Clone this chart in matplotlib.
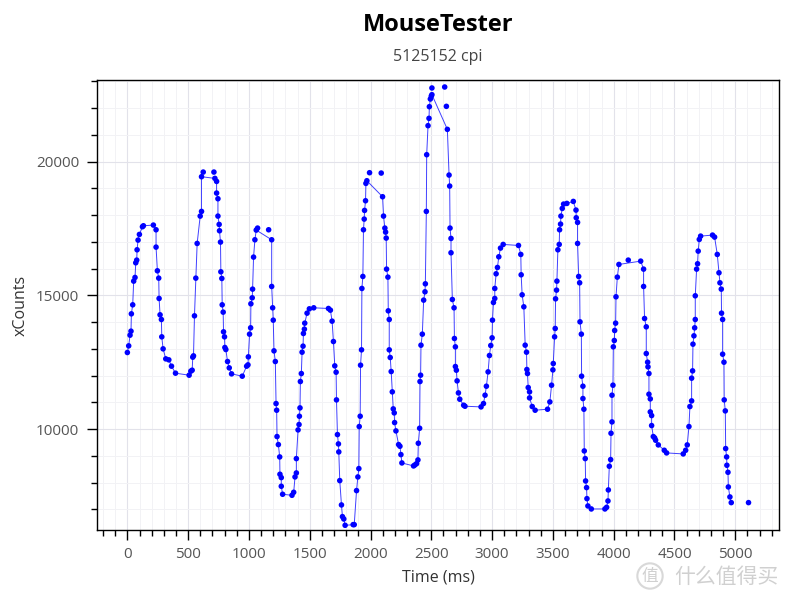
import matplotlib
matplotlib.use('Agg')
import matplotlib.pyplot as plt
from matplotlib.ticker import MultipleLocator

# MouseTester xCounts vs time
t_ms = [
    0, 11, 22, 30, 33, 44, 52, 63, 69, 77,
    80, 88, 99, 124, 132, 214, 236, 236, 247, 258,
    261, 269, 280, 283, 294, 316, 341, 363, 396, 508,
    522, 533, 538, 544, 552, 563, 574, 599, 610, 610,
    624, 712, 720, 734, 734, 745, 745, 755, 758, 766,
    769, 777, 780, 788, 791, 799, 802, 810, 824, 838,
    857, 945, 981, 992, 995, 1005, 1014, 1016, 1027, 1030,
    1038, 1049, 1060, 1071, 1162, 1187, 1187, 1195, 1200, 1206,
    1217, 1223, 1228, 1231, 1242, 1253, 1255, 1266, 1266, 1277,
    1354, 1368, 1379, 1390, 1390, 1404, 1412, 1415, 1420, 1423,
    1431, 1437, 1445, 1448, 1456, 1459, 1478, 1497, 1533, 1654,
    1670, 1684, 1695, 1706, 1717, 1720, 1728, 1736, 1739, 1747,
    1761, 1769, 1780, 1791,
    1857, 1866, 1885, 1896, 1904, 1907, 1915, 1918, 1926, 1929,
    1937, 1942, 1948, 1951, 1959, 1962, 1970, 1992, 2088, 2099,
    2107, 2118, 2124, 2129, 2132, 2143, 2146, 2154, 2154, 2162,
    2170, 2179, 2187, 2195, 2198, 2209, 2231, 2242, 2250, 2258,
    2354, 2365, 2379, 2390, 2393, 2404, 2407, 2412, 2415, 2426,
    2437, 2448, 2451, 2459, 2462, 2473, 2481, 2484, 2492, 2500,
    2505, 2505, 2610, 2624, 2632, 2646, 2651, 2654, 2662, 2662,
    2673, 2687, 2690, 2698, 2698, 2706, 2712, 2723, 2734, 2766,
    2777, 2909, 2929, 2942, 2953, 2967, 2978, 2989, 3000, 3003,
    3011, 3022, 3022, 3033, 3044, 3055, 3069, 3091, 3217, 3236,
    3239, 3247, 3261, 3272, 3283, 3286, 3291, 3297, 3308, 3308,
    3330, 3354, 3456, 3475, 3489, 3500, 3503, 3514, 3519, 3522,
    3530, 3533, 3541, 3552, 3555, 3563, 3566, 3577, 3588, 3615,
    3668, 3690, 3692, 3703, 3703, 3712, 3720, 3723, 3734, 3736,
    3747, 3747, 3755, 3758, 3766, 3769, 3777, 3780, 3788, 3816,
    3928, 3942, 3953, 3956, 3964, 3975, 3978, 3986, 3986, 3994,
    3997, 4005, 4008, 4016, 4019, 4030, 4043, 4120, 4222, 4246,
    4246, 4254, 4268, 4268, 4279, 4282, 4290, 4290, 4301, 4301,
    4312, 4312, 4326, 4337, 4345, 4367, 4416, 4435, 4572, 4592,
    4605, 4619, 4627, 4641, 4641, 4649, 4652, 4660, 4666, 4671,
    4671, 4682, 4690, 4695, 4704, 4715, 4813, 4830, 4852, 4866,
    4874, 4885, 4887, 4896, 4896, 4907, 4909, 4918, 4921, 4929,
    4931, 4940, 4943, 4956, 4967, 5109,
]
x_counts = [
    12868, 13117, 13516, 13666, 14314, 14651, 15536, 15673, 16222, 16322,
    16708, 17070, 17282, 17569, 17606, 17631, 17456, 16808, 15923, 15648,
    14888, 14277, 14102, 13454, 13005, 12631, 12594, 12357, 12095, 12020,
    12170, 12207, 12693, 12743, 14239, 15648, 16945, 17967, 18142, 19439,
    19613, 19613, 19377, 19264, 18828, 18616, 17967, 17656, 17419, 16995,
    15885, 15636, 14651, 14377, 13641, 13454, 13055, 12980, 12531, 12294,
    12070, 11983, 12357, 12406, 12706, 13554, 13791, 14689, 14913, 15237,
    16434, 17082, 17444, 17519, 17456, 17082, 15337, 14539, 14077, 12930,
    12531, 10960, 10711, 9726, 9426, 8965, 8317, 8192, 7868, 7569,
    7531, 7643, 8217, 8366, 8902, 9975, 10175, 10486, 10798, 11783,
    12082, 12880, 13105, 13579, 13741, 13965, 14339, 14501, 14539, 14514,
    14451, 14040, 13279, 12369, 12132, 11097, 9800, 9451, 9152, 8080,
    7170, 6733, 6646, 6409,
    6434, 6434, 7706, 8217, 8529, 10100, 10486, 12394, 12968, 15262,
    15711, 17456, 17855, 18180, 18541, 19190, 19289, 19589, 19576, 18691,
    17967, 17519, 17369, 17145, 15985, 15686, 14426, 14102, 12968, 12681,
    12157, 11397, 10761, 10611, 10249, 9938, 9426, 9364, 9052, 8740,
    8628, 8665, 8715, 8853, 9476, 10037, 11783, 12020, 13142, 13554,
    14826, 15137, 15436, 18142, 20262, 21347, 21621, 22057, 22344, 22456,
    22506, 22756, 22793, 22070, 21210, 19501, 19090, 17519, 17132, 16596,
    14850, 14539, 13392, 13080, 12344, 12207, 11808, 11359, 11122, 10898,
    10860, 10835, 10960, 11272, 11608, 12144, 12756, 13130, 13417, 14077,
    14738, 14888, 15262, 15810, 16047, 16446, 16771, 16908, 16870, 16534,
    15773, 15025, 14576, 13142, 12880, 12232, 12082, 11559, 11397, 11172,
    10848, 10711, 10748, 11022, 11646, 12219, 12456, 13454, 13766, 14875,
    15200, 15536, 16708, 16908, 17456, 17668, 17967, 18254, 18416, 18441,
    18516, 18192, 17905, 17731, 16945, 15711, 15474, 14015, 13554, 11983,
    11608, 11147, 10748, 9189, 8902, 8067, 7818, 7406, 7132, 7020,
    7020, 7082, 7319, 7731, 8616, 8865, 9850, 10274, 11272, 11646,
    13080, 13317, 13691, 13965, 14950, 15686, 16160, 16322, 16284, 15985,
    15337, 14139, 13828, 12830, 12506, 12332, 12082, 11309, 11135, 10648,
    10511, 10137, 9726, 9676, 9589, 9414, 9214, 9115, 9077, 9214,
    9414, 10100, 10848, 11060, 11908, 12182, 13180, 13491, 13791, 14102,
    14988, 15985, 16185, 16658, 17095, 17219, 17257, 17182, 16534, 15848,
    15474, 15237, 14339, 14102, 12805, 12506, 11097, 10686, 9277, 8965,
    8653, 8391, 7843, 7469, 7257, 7257,
]
# points that the smoothed trace does not pass through
off_line = [(624, 19613), (712, 19613), (1071, 17519), (1162, 17456),
            (1992, 19589), (2088, 19576), (2505, 22756), (2610, 22793),
            (2624, 22070), (4120, 16322), (5109, 7257)]

title = 'MouseTester'
subtitle = '5125152 cpi'

line_t = [t for t, c in zip(t_ms, x_counts) if (t, c) not in off_line]
line_c = [c for t, c in zip(t_ms, x_counts) if (t, c) not in off_line]

plt.rcParams['font.family'] = ['Open Sans', 'DejaVu Sans']

fig = plt.figure(figsize=(8, 6), dpi=100)
ax = fig.add_axes([0.1209, 0.1167, 0.8532, 0.7495])

ax.plot(line_t, line_c, color='#0000ff', lw=0.7, alpha=0.75, zorder=2)
ax.scatter(t_ms, x_counts, s=16, color='#0000ff', edgecolors='none', zorder=3)

ax.set_xlim(-252, 5362)
ax.set_ylim(6234, 23044)

ax.xaxis.set_major_locator(MultipleLocator(500))
ax.xaxis.set_minor_locator(MultipleLocator(100))
ax.yaxis.set_major_locator(MultipleLocator(5000))
ax.yaxis.set_minor_locator(MultipleLocator(1000))

ax.grid(which='major', color='#e2e2ea', lw=0.8)
ax.grid(which='minor', color='#f2f2f5', lw=0.7)
ax.set_axisbelow(True)

for s in ax.spines.values():
    s.set_linewidth(1.0)
    s.set_color('black')

ax.tick_params(which='major', length=7, width=1, colors='black',
               labelcolor='#555555', labelsize=11, pad=5.5)
ax.tick_params(which='minor', length=4, width=1, colors='black')

ax.set_xlabel('Time (ms)', fontsize=11.5, color='#333333', labelpad=5)
ax.set_ylabel('xCounts', fontsize=11.5, color='#333333', labelpad=5)

fig.text(0.5475, 0.958, title, ha='center', va='center', fontsize=17,
         fontweight='bold', color='black')
fig.text(0.5475, 0.905, subtitle, ha='center', va='center', fontsize=11.5,
         color='#444444')

# site watermark in the lower right corner
wm_font = ['Noto Sans CJK SC', 'DejaVu Sans']
fig.text(0.8125, 0.040, '值', ha='center', va='center', fontsize=12,
         color='#d0d0d0', family=wm_font,
         bbox=dict(boxstyle='circle,pad=0.25', fc='none', ec='#d8d8d8', lw=1.5))
fig.text(0.843, 0.038, '什么值得买', ha='left', va='center', fontsize=15,
         color='#d0d0d0', family=wm_font)

fig.savefig('out.png', dpi=100)
